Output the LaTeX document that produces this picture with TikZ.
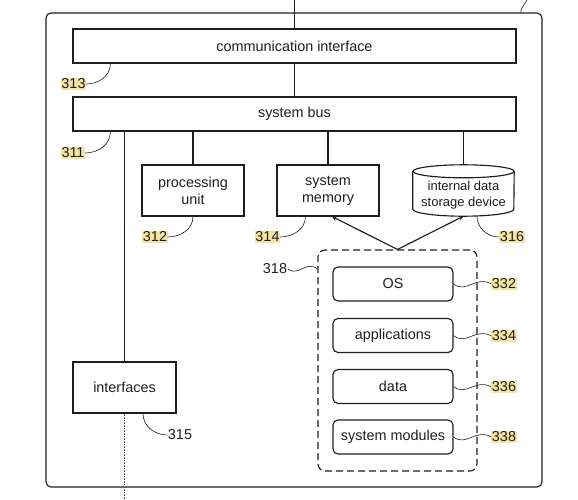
\documentclass[tikz,border=0pt]{standalone}
\usepackage{fontspec}
\setmainfont{Liberation Sans}
\usetikzlibrary{positioning, arrows}
\definecolor{hilite}{RGB}{246,228,163}
\definecolor{inkgray}{RGB}{30,30,30}

\begin{document}
\begin{tikzpicture}[x=1pt, y=-1pt, >=stealth,
	every node/.style={font=\fontsize{14.4}{17}\selectfont, text=inkgray},
	block/.style={draw=inkgray, line width=1.15pt, rectangle, inner sep=0pt, align=center},
	softblock/.style={block, rounded corners=5pt, minimum width=120pt, minimum height=34pt},
	refnum/.style={fill=hilite, inner sep=0.5pt},
	refplain/.style={inner sep=0.5pt},
	leader/.style={draw=inkgray, line width=0.6pt},
	wire/.style={draw=inkgray, line width=1.15pt}]
	\useasboundingbox (0,0) rectangle (578,500);
	
	% Draw the outer device frame
	\node[block, rounded corners=5pt, minimum width=496pt, minimum height=474pt] (outer) at (294,250) {};
	\coordinate (topin) at (294.5,0);
	\coordinate (topref) at (527,0);
	\coordinate (botout) at (124.5,500);
	
	% Bus level blocks
	\node[block, minimum width=443pt, minimum height=34pt] (commif) at (294.5,46) {communication interface};
	\node[block, minimum width=443pt, minimum height=34pt] (bus) at (294.5,114) {system bus};
	
	% Units hanging off the bus
	\node[block, minimum width=102pt, minimum height=51pt] (proc) at (193,190.5) {processing\\unit};
	\node[block, minimum width=102pt, minimum height=51pt] (mem) at (328,190.5) {system\\memory};
	\node[inner sep=0pt, minimum width=101pt, minimum height=51pt] (store) at (463.5,190.5) {};
	\node[align=center, font=\fontsize{13}{15.5}\selectfont] (storelbl) at (463.5,195) {internal data\\storage device};
	\node[block, minimum width=103pt, minimum height=51pt] (iface) at (124.5,387.5) {interfaces};
	
	% Draw the storage cylinder
	\draw[wire] ([yshift=-6.5pt]store.north) ellipse (50.5pt and 6.5pt);
	\draw[wire] ([yshift=-6.5pt]store.north west) -- ([yshift=7pt]store.south west)
		arc[start angle=180, end angle=360, x radius=50.5pt, y radius=7pt]
		-- ([yshift=-6.5pt]store.north east);
	
	% Software stack in memory
	\node[block, dashed, dash pattern=on 7pt off 4pt, rounded corners=7pt, minimum width=159pt, minimum height=221pt] (sw) at (397.5,360.5) {};
	\node[softblock] (os) at (393,284) {OS};
	\node[softblock] (apps) at (393,335.5) {applications};
	\node[softblock] (data) at (393,386.5) {data};
	\node[softblock] (mods) at (393,437) {system modules};
	
	% Connections
	\draw[wire] (topin) -- (commif.north);
	\draw[wire] (commif.south) -- (bus.south |- bus.north);
	\draw[wire] (proc.north |- bus.south) -- (proc.north);
	\draw[wire] (mem.north |- bus.south) -- (mem.north);
	\draw[wire] (store.north |- bus.south) -- (store.north);
	\draw[wire] (iface.north |- bus.south) -- (iface.north);
	\draw[gray!70!black, dash pattern=on 1pt off 0.6pt, line width=1pt] (iface.south) -- (botout);
	\draw[wire, ->] (sw.north) -- ([xshift=4pt]mem.south);
	\draw[wire, ->] (sw.north) -- (store.south);
	
	% Reference numerals
	\node[refnum] (r313) at (73.5,84) {313};
	\node[refnum] (r311) at (73,153) {311};
	\node[refnum] (r312) at (155,237) {312};
	\node[refnum] (r314) at (267.5,237) {314};
	\node[refnum] (r316) at (512,237) {316};
	\node[refplain] (r315) at (180,435) {315};
	\node[refplain] (r318) at (275,269) {318};
	\node[refnum] (r332) at (504,284) {332};
	\node[refnum] (r334) at (504,336) {334};
	\node[refnum] (r336) at (504,387) {336};
	\node[refnum] (r338) at (504,437) {338};
	
	\draw[leader] ([xshift=-22pt]outer.north east) to[out=80, in=240] (topref);
	\draw[leader] ([xshift=38pt]commif.south west) to[out=-90, in=0] (r313.east);
	\draw[leader] ([xshift=38pt]bus.south west) to[out=-90, in=0] (r311.east);
	\draw[leader] (proc.south) to[out=-90, in=0] (r312.east);
	\draw[leader] ([xshift=29pt]mem.south west) to[out=-90, in=0] (r314.east);
	\draw[leader] ([xshift=13.5pt]store.south) to[out=-90, in=180] (r316.west);
	\draw[leader] ([xshift=18.5pt]iface.south) to[out=-90, in=180] (r315.west);
	\draw[leader] (r318.east) .. controls (299,277) and (306,260) .. (sw.west |- r318.east);
	\draw[leader] (os.east) .. controls (466,294) and (476,275) .. (r332.west);
	\draw[leader] (apps.east) .. controls (466,346) and (476,327) .. (r334.west);
	\draw[leader] (data.east) .. controls (466,397) and (476,378) .. (r336.west);
	\draw[leader] (mods.east) .. controls (466,447) and (476,428) .. (r338.west);
	
\end{tikzpicture}
\end{document}
